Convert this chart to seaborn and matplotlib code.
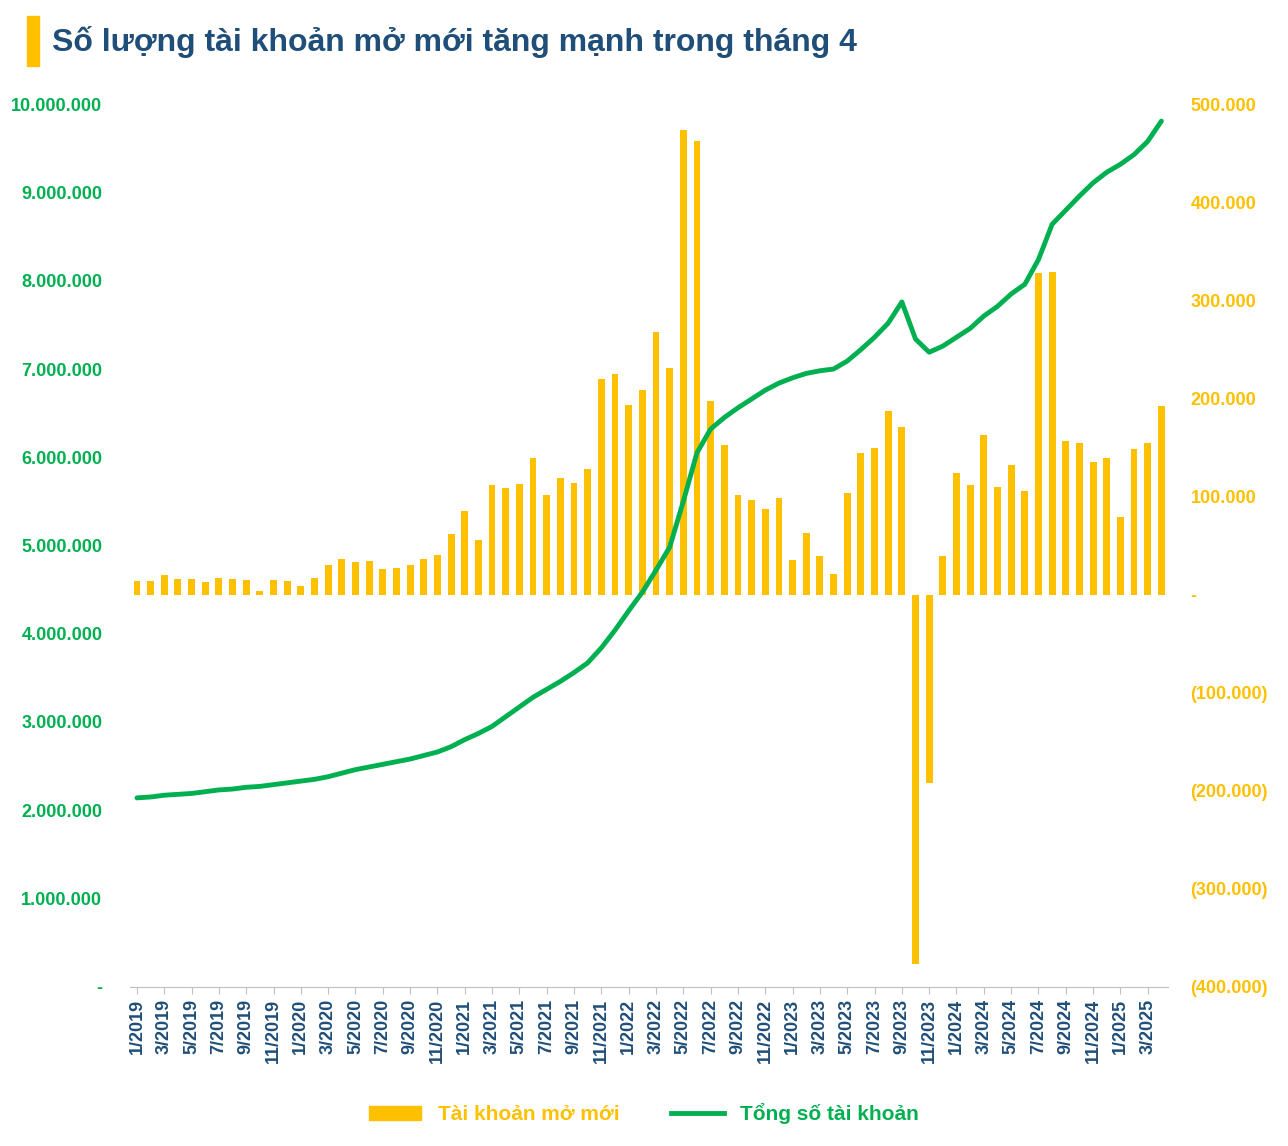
import numpy as np
import pandas as pd
import matplotlib
matplotlib.use("Agg")
import matplotlib.pyplot as plt
import matplotlib.patches as mpatches
from matplotlib.lines import Line2D
from matplotlib.ticker import FuncFormatter
import seaborn as sns

# tháng 1/2019 .. 4/2025
MONTHS = [f"{m}/{y}" for y in range(2019, 2026) for m in range(1, 13)][:76]

# tài khoản mở mới (nghìn)
NEW_ACC = [
    14, 14, 20, 16, 16, 13, 17, 16, 15, 4, 15, 14,
    9, 17, 30, 36, 33, 34, 26, 27, 30, 36, 40, 62,
    85, 56, 112, 109, 113, 139, 101, 119, 114, 128, 220, 225,
    193, 209, 268, 231, 474, 463, 197, 153, 101, 96, 87, 98,
    35, 63, 39, 21, 104, 144, 149, 187, 171, -377, -192, 39,
    124, 112, 163, 110, 132, 106, 328, 329, 157, 155, 135, 139,
    79, 148, 155, 192,
]
# tổng số tài khoản (triệu)
TOTAL_ACC = [
    2.14, 2.15, 2.17, 2.18, 2.19, 2.21, 2.23, 2.24, 2.26, 2.27, 2.29, 2.31,
    2.33, 2.35, 2.38, 2.42, 2.46, 2.49, 2.52, 2.55, 2.58, 2.62, 2.66, 2.72,
    2.80, 2.87, 2.95, 3.06, 3.17, 3.28, 3.37, 3.46, 3.56, 3.67, 3.84, 4.04,
    4.26, 4.47, 4.72, 4.98, 5.50, 6.05, 6.32, 6.45, 6.56, 6.66, 6.76, 6.84,
    6.90, 6.95, 6.98, 7.00, 7.09, 7.22, 7.36, 7.52, 7.76, 7.34, 7.19, 7.26,
    7.36, 7.46, 7.60, 7.71, 7.85, 7.96, 8.24, 8.64, 8.80, 8.96, 9.11, 9.23,
    9.32, 9.43, 9.58, 9.81,
]

GREEN = "#00B050"
ORANGE = "#FFC000"
NAVY = "#1F4E79"

plt.rcParams["font.family"] = "Liberation Sans"

df = pd.DataFrame({
    "x": np.arange(len(MONTHS)),
    "month": MONTHS,
    "new": np.array(NEW_ACC) * 1000,
    "total": np.array(TOTAL_ACC) * 1e6,
})

fig = plt.figure(figsize=(12.88, 11.46), dpi=100)
ax = fig.add_axes([0.101, 0.139, 0.806, 0.770])
ax2 = ax.twinx()

sns.barplot(data=df, x="x", y="new", ax=ax2, color=ORANGE, width=0.5,
            saturation=1, native_scale=True)
sns.lineplot(data=df, x="x", y="total", ax=ax, color=GREEN, linewidth=3.5)
ax.set_zorder(ax2.get_zorder() + 1)
ax.patch.set_visible(False)
ax.lines[0].set_solid_capstyle("round")
ax.lines[0].set_solid_joinstyle("round")

ax.set_xlim(-0.5, 75.5)
ax.set_ylim(0, 10_000_000)
ax2.set_ylim(-400_000, 500_000)


def dot_fmt(v, _):
    if abs(v) < 1e-6:
        return "-"
    s = f"{abs(v):,.0f}".replace(",", ".")
    return f"({s})" if v < 0 else s


ax.set_yticks(np.arange(0, 10_000_001, 1_000_000))
ax.yaxis.set_major_formatter(FuncFormatter(dot_fmt))
ax2.set_yticks(np.arange(-400_000, 500_001, 100_000))
ax2.yaxis.set_major_formatter(FuncFormatter(dot_fmt))

ax.set_xticks(range(0, 76, 2))
ax.set_xticklabels(MONTHS[::2], rotation=90)
ax.set_xlabel("")
ax.set_ylabel("")
ax2.set_xlabel("")
ax2.set_ylabel("")

for a in (ax, ax2):
    for s in a.spines.values():
        s.set_visible(False)
    a.grid(False)
ax.spines["bottom"].set_visible(True)
ax.spines["bottom"].set_color("#BFBFBF")

ax.tick_params(axis="y", length=0, labelsize=13, labelcolor=GREEN, pad=20)
ax2.tick_params(axis="y", length=0, labelsize=13, labelcolor=ORANGE, pad=16)
ax.tick_params(axis="x", length=5, color="#BFBFBF", labelsize=13, labelcolor=NAVY)
ax2.tick_params(axis="x", length=0, labelbottom=False)
for lab in ax.get_yticklabels() + ax2.get_yticklabels() + ax.get_xticklabels():
    lab.set_fontweight("bold")

# tiêu đề với vạch màu cam
fig.patches.append(mpatches.Rectangle((0.021, 0.942), 0.009, 0.044, transform=fig.transFigure,
                                      color=ORANGE, figure=fig))
fig.text(0.04, 0.963, "Số lượng tài khoản mở mới tăng mạnh trong tháng 4",
         fontsize=23, fontweight="bold", color=NAVY, va="center")

handles = [mpatches.Patch(color=ORANGE, label="Tài khoản mở mới"),
           Line2D([], [], color=GREEN, linewidth=3.5, label="Tổng số tài khoản")]
leg = fig.legend(handles=handles, loc="center", bbox_to_anchor=(0.5, 0.028), ncol=2,
                 frameon=False, fontsize=15, handlelength=2.5, columnspacing=2.5)
for t, c in zip(leg.get_texts(), [ORANGE, GREEN]):
    t.set_color(c)
    t.set_fontweight("bold")

fig.savefig("out.png", dpi=100)
